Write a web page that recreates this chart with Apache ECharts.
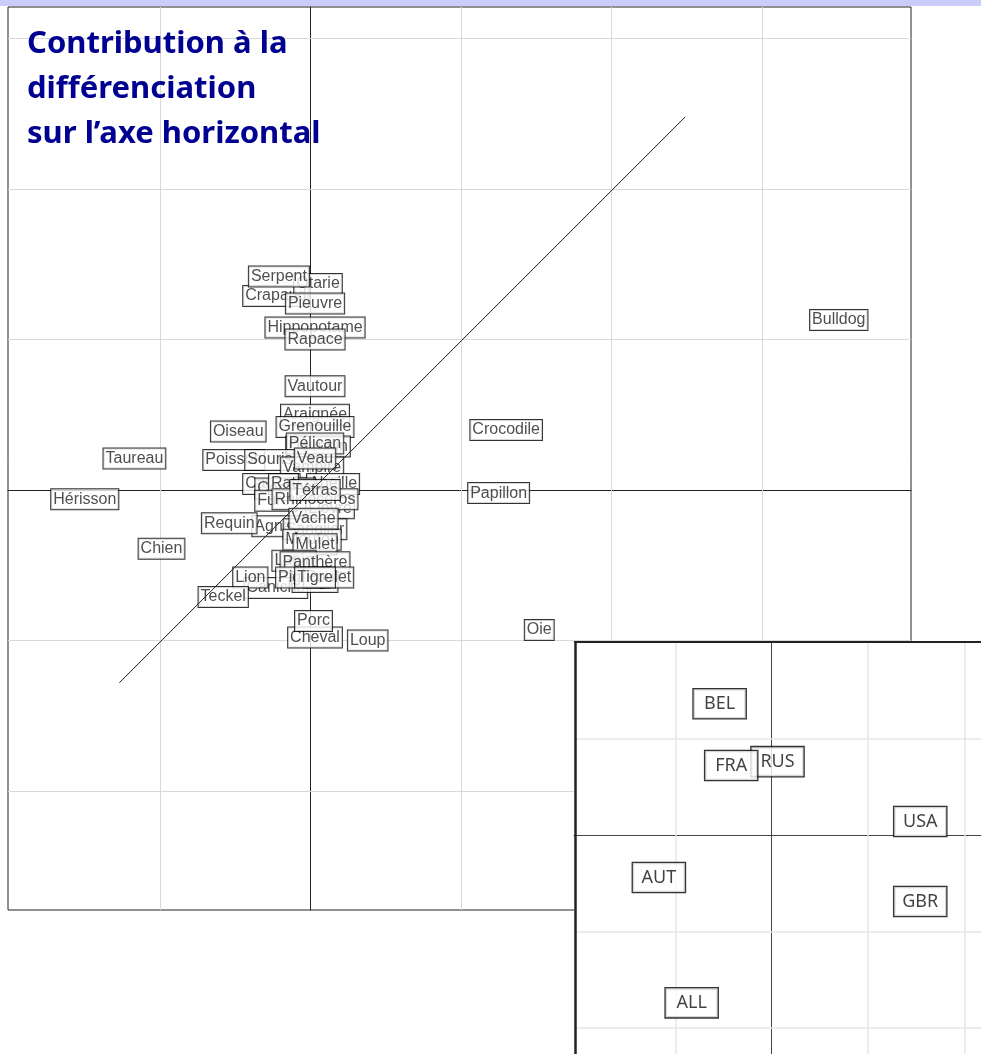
<!DOCTYPE html>
<html>
<head>
<meta charset="utf-8">
<title>Contribution à la différenciation</title>
<script src="https://cdn.jsdelivr.net/npm/echarts@6/dist/echarts.min.js"></script>
<style>
html,body{margin:0;padding:0;background:#fff;}
#chart{width:981px;height:1054px;}
</style>
</head>
<body>
<div id="chart"></div>
<script>
// animaux - plan principal (ordre = ordre de dessin, du fond vers le dessus)
var animalNames = ['Crapaud','Otarie','Serpent','Pieuvre','Hippopotame','Rapace','Vautour',
  'Araignée','Oiseau','Grenouille','Dauphin','Pélican','Poisson','Souris','Vampire','Veau',
  'Abeille','Canard','Cochon','Rat','Lièvre','Furet','Rhinocéros','Tétras',
  'Agneau','Requin','Sanglier','Vache','Mouton','Mulet','Lapin','Panthère',
  'Caniche','Lion','Teckel','Singe','Pigeon','Poulet','Tigre',
  'Cheval','Porc','Loup','Oie','Crocodile','Papillon','Bulldog','Taureau','Hérisson','Chien'];
var animalX = [-0.23,0.05,-0.21,0.03,0.03,0.03,0.03,
  0.03,-0.48,0.03,0.05,0.03,-0.51,-0.27,0.01,0.03,
  0.15,-0.26,-0.17,-0.18,0.13,-0.23,0.03,0.03,
  -0.19,-0.54,0.03,0.02,0.01,0.03,-0.11,0.03,
  -0.23,-0.40,-0.58,0.03,-0.05,0.12,0.03,
  0.03,0.02,0.38,1.52,1.30,1.25,3.51,-1.17,-1.50,-0.99];
var animalY = [1.29,1.37,1.42,1.24,1.08,1.00,0.69,
  0.50,0.39,0.42,0.29,0.31,0.20,0.20,0.15,0.21,
  0.04,0.04,0.01,0.04,-0.12,-0.07,-0.06,0.00,
  -0.24,-0.22,-0.26,-0.19,-0.33,-0.36,-0.47,-0.48,
  -0.65,-0.58,-0.71,-0.61,-0.58,-0.58,-0.58,
  -0.98,-0.87,-1.00,-0.93,0.40,-0.02,1.13,0.21,-0.06,-0.39];

// diagonale
var diagX = [-1.27, 2.49];
var diagY = [-1.28, 2.48];

// pays - encart
var countryNames = ['RUS','BEL','FRA','USA','AUT','GBR','ALL'];
var countryX = [0.06,-0.54,-0.42,1.54,-1.17,1.54,-0.83];
var countryY = [0.76,1.36,0.72,0.14,-0.44,-0.69,-1.74];

// quadrillage
var mainGridX = [-1,1,2,3];
var mainGridY = [-2,-1,1,2,3];
var insetGridX = [-1,1,2];
var insetGridY = [-2,-1,1];

var titleText = 'Contribution à la\ndifférenciation\nsur l’axe horizontal';

function points(names, xs, ys){
  var out = [];
  for(var i=0;i<names.length;i++){
    out.push({name: names[i], value: [xs[i], ys[i]]});
  }
  return out;
}

function gridLines(xs, ys){
  return xs.map(function(v){ return {xAxis: v}; })
    .concat(ys.map(function(v){ return {yAxis: v}; }));
}

var chart = echarts.init(document.getElementById('chart'));

var option = {
  animation: false,
  backgroundColor: '#fff',
  graphic: [{
    type: 'rect', left: 0, top: 0,
    shape: {width: 981, height: 6},
    style: {fill: '#ccccfa'}
  }],
  title: {
    text: titleText,
    left: 27, top: 22, padding: 0,
    textStyle: {
      fontFamily: 'Noto Sans', fontWeight: 'bold', fontSize: 31,
      lineHeight: 45, color: '#000091'
    }
  },
  grid: [
    {left: 8, top: 7, width: 903, height: 903, show: true,
     backgroundColor: '#fff', borderColor: '#222', borderWidth: 1},
    {left: 574, top: 642, width: 407, height: 412, show: true, zlevel: 1,
     backgroundColor: '#fff', borderWidth: 0}
  ],
  xAxis: [
    {gridIndex: 0, type: 'value', min: -2.01, max: 3.99,
     axisLine: {onZero: true, lineStyle: {color: '#222'}},
     axisTick: {show: false}, axisLabel: {show: false}, splitLine: {show: false}},
    {gridIndex: 1, type: 'value', min: -2.05, max: 2.17, zlevel: 1,
     axisLine: {onZero: true, lineStyle: {color: '#444'}},
     axisTick: {show: false}, axisLabel: {show: false}, splitLine: {show: false}}
  ],
  yAxis: [
    {gridIndex: 0, type: 'value', min: -2.79, max: 3.21,
     axisLine: {onZero: true, lineStyle: {color: '#222'}},
     axisTick: {show: false}, axisLabel: {show: false}, splitLine: {show: false}},
    {gridIndex: 1, type: 'value', min: -2.27, max: 2.0, zlevel: 1,
     axisLine: {onZero: true, lineStyle: {color: '#444'}},
     axisTick: {show: false}, axisLabel: {show: false}, splitLine: {show: false}}
  ],
  series: [
    {
      // quadrillage principal
      type: 'line', xAxisIndex: 0, yAxisIndex: 0, z: 1,
      data: [[0, 0]], symbol: 'none', lineStyle: {opacity: 0},
      markLine: {
        silent: true, symbol: 'none', label: {show: false}, z: 1,
        lineStyle: {color: '#d8d8d8', type: 'solid', width: 1},
        data: gridLines(mainGridX, mainGridY)
      }
    },
    {
      type: 'scatter', xAxisIndex: 0, yAxisIndex: 0, z: 3,
      symbolSize: 1, itemStyle: {color: 'rgba(0,0,0,0)'},
      data: points(animalNames, animalX, animalY),
      label: {
        show: true, position: 'inside', formatter: '{b}',
        fontFamily: "'Liberation Sans', Arial, sans-serif",
        fontSize: 16, lineHeight: 17, color: '#222',
        backgroundColor: '#fff', borderColor: '#000', borderWidth: 1,
        padding: [2, 2, 1, 2]
      }
    },
    {
      type: 'line', xAxisIndex: 0, yAxisIndex: 0, z: 4,
      data: [[diagX[0], diagY[0]], [diagX[1], diagY[1]]],
      symbol: 'none', lineStyle: {color: '#222', width: 1}
    },
    {
      // quadrillage et bords de l'encart
      type: 'line', xAxisIndex: 1, yAxisIndex: 1, zlevel: 1, z: 1,
      data: [[0, 0]], symbol: 'none', lineStyle: {opacity: 0},
      markLine: {
        silent: true, symbol: 'none', label: {show: false}, zlevel: 1, z: 1,
        lineStyle: {color: '#e6e6e6', type: 'solid', width: 1.5},
        data: gridLines(insetGridX, insetGridY).concat([
          {xAxis: -2.04, lineStyle: {color: '#222', width: 2.5}},
          {yAxis: 1.995, lineStyle: {color: '#222', width: 2}}
        ])
      }
    },
    {
      type: 'scatter', xAxisIndex: 1, yAxisIndex: 1, zlevel: 1, z: 3,
      symbolSize: 1, itemStyle: {color: 'rgba(0,0,0,0)'},
      data: points(countryNames, countryX, countryY),
      label: {
        show: true, position: 'inside', formatter: '{b}',
        fontFamily: 'Noto Sans', fontSize: 18, color: '#111',
        width: 52, height: 29, lineHeight: 29, align: 'center',
        backgroundColor: '#fff', borderColor: '#000', borderWidth: 1.3, padding: 0
      }
    }
  ]
};

chart.setOption(option);
</script>
</body>
</html>
